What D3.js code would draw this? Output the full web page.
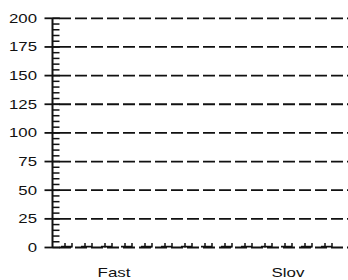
<!DOCTYPE html>
<html>
<head>
<meta charset="utf-8">
<script src="https://cdn.jsdelivr.net/npm/d3@7"></script>
<style>
  body { margin: 0; background: #fff; }
  text { font-family: "Liberation Sans", Arial, sans-serif; fill: #111; }
</style>
</head>
<body>
<div id="chart"></div>
<script>
// data
var categories = ["Fast", "Slov"];
var groups = ["g1", "g2", "g3", "g4", "g5", "g6", "g7"];
var seriesA = {
    Fast: [1.5, 1.5, 1.5, 1.5, 1.5, 1.5, 1.5],
    Slov: [1.5, 1.5, 1.5, 1.5, 1.5, 1.5, 1.5]
};
var seriesB = {
    Fast: [4, 4, 4, 4, 4, 4, 4],
    Slov: [4, 4, 4, 4, 4, 4, 4]
};
var yTicks = [0, 25, 50, 75, 100, 125, 150, 175, 200];
var yMinor = d3.range(0, 201, 5);

var width = 348, height = 280;
var axisX = 52.5;

var svg = d3.select("#chart").append("svg")
    .attr("width", width)
    .attr("height", height);

var y = d3.scaleLinear().domain([0, 200]).range([247.5, 18.3]);
var x = d3.scaleBand().domain(categories).range([27, 375]);

var flat = [];
categories.forEach(function (c) {
    groups.forEach(function (g, i) {
        flat.push({ key: c + g, a: seriesA[c][i], b: seriesB[c][i] });
    });
});
var xg = d3.scaleBand().domain(flat.map(d => d.key)).range([58, 338]);

// gridlines
svg.append("g")
    .selectAll("line")
    .data(yTicks)
    .join("line")
    .attr("x1", 59)
    .attr("x2", width)
    .attr("y1", d => y(d))
    .attr("y2", d => y(d))
    .attr("stroke", "#111")
    .attr("stroke-width", 1.8)
    .attr("stroke-dasharray", "12,4");

// tiny bars at the bottom
var bars = svg.append("g")
    .selectAll("g")
    .data(flat)
    .join("g")
    .attr("transform", d => "translate(" + xg(d.key) + ",0)");

bars.append("rect")
    .attr("x", xg.bandwidth() * 0.15)
    .attr("width", xg.bandwidth() * 0.55)
    .attr("y", d => y(d.a))
    .attr("height", d => y(0) - y(d.a))
    .attr("fill", "#111");

bars.append("line")
    .attr("x1", xg.bandwidth() * 0.35)
    .attr("x2", xg.bandwidth() * 0.35)
    .attr("y1", d => y(d.b))
    .attr("y2", y(0))
    .attr("stroke", "#111")
    .attr("stroke-width", 1.5);

bars.append("line")
    .attr("x1", xg.bandwidth() * 0.7)
    .attr("x2", xg.bandwidth() * 0.7)
    .attr("y1", d => y(d.b))
    .attr("y2", y(0))
    .attr("stroke", "#111")
    .attr("stroke-width", 1.5);

// y axis line
svg.append("line")
    .attr("x1", axisX).attr("x2", axisX)
    .attr("y1", y(200)).attr("y2", y(0))
    .attr("stroke", "#111")
    .attr("stroke-width", 2);

// minor ticks (inside)
svg.append("g")
    .selectAll("line")
    .data(yMinor)
    .join("line")
    .attr("x1", axisX)
    .attr("x2", axisX + 7)
    .attr("y1", d => y(d))
    .attr("y2", d => y(d))
    .attr("stroke", "#111")
    .attr("stroke-width", 1.5);

// major ticks (outside)
svg.append("g")
    .selectAll("line")
    .data(yTicks)
    .join("line")
    .attr("x1", axisX - 8)
    .attr("x2", axisX + 7)
    .attr("y1", d => y(d))
    .attr("y2", d => y(d))
    .attr("stroke", "#111")
    .attr("stroke-width", 1.8);

svg.append("g")
    .selectAll("text")
    .data(yTicks)
    .join("text")
    .attr("transform", d => "translate(37," + y(d) + ") scale(1.4,1)")
    .attr("text-anchor", "end")
    .attr("dy", "0.36em")
    .attr("font-size", 12)
    .text(d => d);

svg.append("g")
    .selectAll("text")
    .data(categories)
    .join("text")
    .attr("transform", d => "translate(" + (x(d) + x.bandwidth() / 2) + ",277) scale(1.3,1)")
    .attr("text-anchor", "middle")
    .attr("font-size", 13)
    .text(d => d);
</script>
</body>
</html>
